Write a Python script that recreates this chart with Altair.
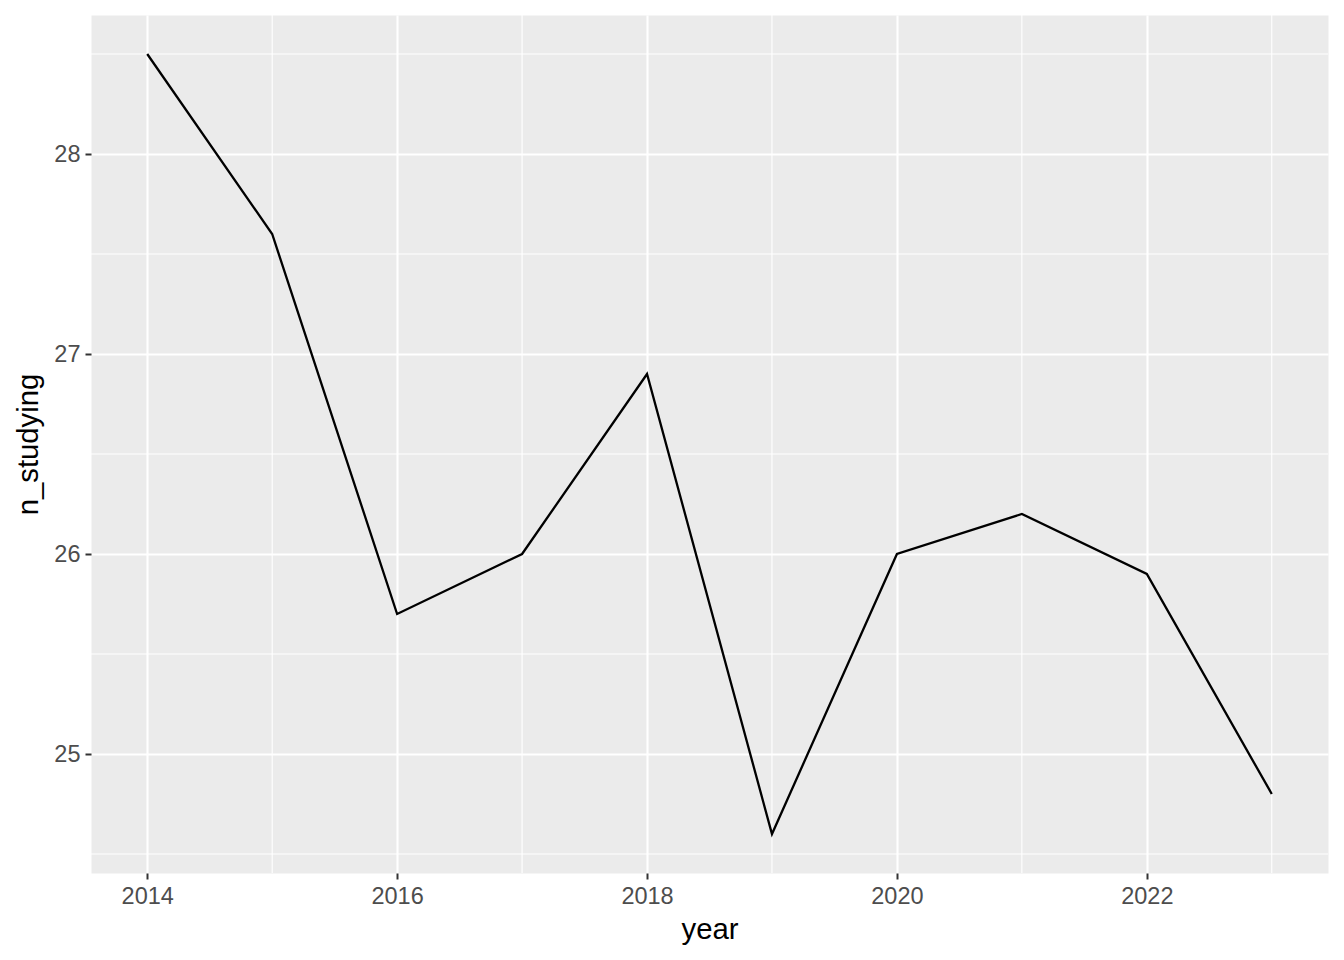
import altair as alt
import pandas as pd

years = [2014, 2015, 2016, 2017, 2018, 2019, 2020, 2021, 2022, 2023]
n_studying = [28.5, 27.6, 25.7, 26.0, 26.9, 24.6, 26.0, 26.2, 25.9, 24.8]

x_major = [2014, 2016, 2018, 2020, 2022]
x_minor = [2015, 2017, 2019, 2021, 2023]
y_major = [25, 26, 27, 28]
y_minor = [24.5, 25.5, 26.5, 27.5, 28.5]

x_domain = [2013.55, 2023.45]
y_domain = [24.405, 28.695]

df = pd.DataFrame({"year": years, "n_studying": n_studying})
dfx = pd.DataFrame({"year": x_minor})
dfy = pd.DataFrame({"n_studying": y_minor})

xscale = alt.Scale(domain=x_domain, nice=False, zero=False)
yscale = alt.Scale(domain=y_domain, nice=False, zero=False)
xaxis = alt.Axis(values=x_major, format="d", title="year", titlePadding=8)
yaxis = alt.Axis(values=y_major, format="d", title="n_studying", titlePadding=10)

xminor = alt.Chart(dfx).mark_rule(color="white", strokeWidth=1.1).encode(
    x=alt.X("year:Q", scale=xscale, axis=xaxis)
)
yminor = alt.Chart(dfy).mark_rule(color="white", strokeWidth=1.1).encode(
    y=alt.Y("n_studying:Q", scale=yscale, axis=yaxis)
)

line = alt.Chart(df).mark_line(color="black", strokeWidth=2.3).encode(
    x=alt.X("year:Q", scale=xscale, axis=xaxis),
    y=alt.Y("n_studying:Q", scale=yscale, axis=yaxis),
)

chart = alt.layer(xminor, yminor, line).properties(
    width=1237, height=858,
    autosize=alt.AutoSizeParams(type="none"),
    padding={"left": 83, "top": 7, "right": 8, "bottom": 79},
).configure_view(
    fill="#EBEBEB", strokeOpacity=0
).configure_axis(
    domain=False,
    grid=True,
    gridColor="white",
    gridWidth=2.1,
    tickColor="#333333",
    tickWidth=2,
    tickSize=6,
    labelColor="#4D4D4D",
    labelFont="Liberation Sans",
    labelFontSize=23.5,
    labelPadding=5,
    titleFont="Liberation Sans",
    titleFontSize=29.3,
    titleFontWeight="normal",
    titleColor="black",
)

chart.save("out.html", embed_options={"renderer": "svg", "actions": False})
